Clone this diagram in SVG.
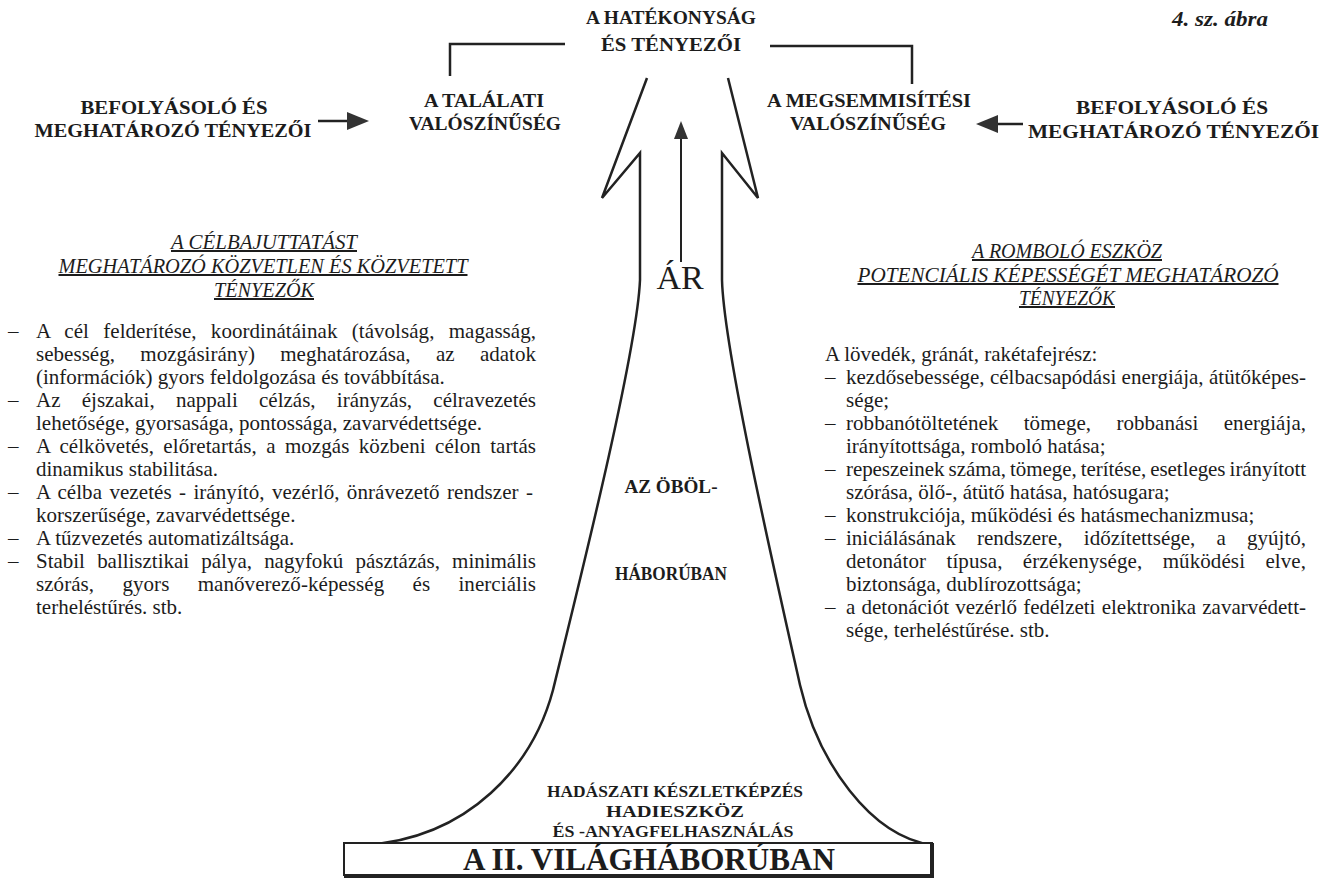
<svg xmlns="http://www.w3.org/2000/svg" width="1319" height="881" viewBox="0 0 1319 881">
<style>
.t{font-family:"Liberation Serif","Times New Roman",serif;fill:#1c1c1c}
.cap{font-size:19px;font-weight:bold;text-anchor:middle}
.hd{font-size:20px;font-style:italic;text-decoration:underline;text-anchor:middle}
.li{font-size:21px}
.ln{fill:none;stroke:#222;stroke-width:2.5}
.thin{fill:none;stroke:#222;stroke-width:2}
.hd-fill{fill:#333}
</style>
<rect width="1319" height="881" fill="#ffffff"/>

<g id="title">
<text class="t cap" x="671" y="24" textLength="170" lengthAdjust="spacingAndGlyphs">A HATÉKONYSÁG</text>
<text class="t cap" x="671" y="51" textLength="140" lengthAdjust="spacingAndGlyphs">ÉS TÉNYEZŐI</text>
</g>
<g id="figno">
<text class="t" x="1172" y="26" font-size="22" font-weight="bold" font-style="italic" textLength="96" lengthAdjust="spacingAndGlyphs">4. sz. ábra</text>
</g>

<g id="hit-prob">
<text class="t cap" x="484" y="107" textLength="120" lengthAdjust="spacingAndGlyphs">A TALÁLATI</text>
<text class="t cap" x="485" y="130" textLength="152" lengthAdjust="spacingAndGlyphs">VALÓSZÍNŰSÉG</text>
</g>
<g id="kill-prob">
<text class="t cap" x="869" y="107" textLength="204" lengthAdjust="spacingAndGlyphs">A MEGSEMMISÍTÉSI</text>
<text class="t cap" x="868" y="130" textLength="156" lengthAdjust="spacingAndGlyphs">VALÓSZÍNŰSÉG</text>
</g>
<g id="factors-left">
<text class="t cap" x="174" y="114" textLength="187" lengthAdjust="spacingAndGlyphs">BEFOLYÁSOLÓ ÉS</text>
<text class="t cap" x="173" y="137" textLength="277" lengthAdjust="spacingAndGlyphs">MEGHATÁROZÓ TÉNYEZŐI</text>
</g>
<g id="factors-right">
<text class="t cap" x="1172" y="114" textLength="192" lengthAdjust="spacingAndGlyphs">BEFOLYÁSOLÓ ÉS</text>
<text class="t" x="1028" y="138" font-size="19" font-weight="bold" textLength="291" lengthAdjust="spacingAndGlyphs">MEGHATÁROZÓ TÉNYEZŐI</text>
</g>

<g id="connectors">
<path class="ln" d="M450,76 V44 H565"/>
<path class="ln" d="M770,46 H912 V84"/>
<line class="ln" x1="318" y1="121" x2="350" y2="121"/>
<path class="hd-fill" d="M347,112 L369,121 L347,130 Z"/>
<line class="ln" x1="1023" y1="124" x2="995" y2="124"/>
<path class="hd-fill" d="M998,115 L976,124 L998,133 Z"/>
</g>

<g id="big-arrow">
<path class="ln" d="M647,78 L602,198 L640,153 L640,280 C637,350 585,560 553,690 C533,765 470,838 365,845"/>
<path class="ln" d="M728,78 L758,198 L722,153 L722,280 C724,350 772,560 800,685 C818,762 870,836 932,845"/>
<line class="thin" x1="681" y1="262" x2="681" y2="136"/>
<path class="hd-fill" d="M674,139 L681,121 L688,139 Z"/>
</g>

<g id="price">
<text class="t" x="680" y="289" font-size="34" text-anchor="middle">ÁR</text>
</g>
<g id="gulf-war">
<text class="t" x="671" y="493" font-size="18" font-weight="bold" text-anchor="middle" textLength="93" lengthAdjust="spacingAndGlyphs">AZ ÖBÖL-</text>
<text class="t" x="671" y="580" font-size="18" font-weight="bold" text-anchor="middle" textLength="112" lengthAdjust="spacingAndGlyphs">HÁBORÚBAN</text>
</g>
<g id="stockpile">
<text class="t" x="675" y="797" font-size="16" font-weight="bold" text-anchor="middle" textLength="256" lengthAdjust="spacingAndGlyphs">HADÁSZATI KÉSZLETKÉPZÉS</text>
<text class="t" x="675" y="817" font-size="16" font-weight="bold" text-anchor="middle" textLength="138" lengthAdjust="spacingAndGlyphs">HADIESZKÖZ</text>
<text class="t" x="673" y="837" font-size="16" font-weight="bold" text-anchor="middle" textLength="241" lengthAdjust="spacingAndGlyphs">ÉS -ANYAGFELHASZNÁLÁS</text>
</g>
<g id="ww2-box">
<rect x="344" y="843" width="588" height="32" fill="#fff" stroke="#222" stroke-width="2"/>
<line x1="344" y1="876" x2="934" y2="876" stroke="#222" stroke-width="4"/>
<line x1="932" y1="843" x2="932" y2="878" stroke="#222" stroke-width="4"/>
<text class="t" x="649" y="870" font-size="31" font-weight="bold" text-anchor="middle" textLength="372" lengthAdjust="spacingAndGlyphs">A II. VILÁGHÁBORÚBAN</text>
</g>

<g id="delivery-factors">
<text class="t hd" x="264" y="249" textLength="186" lengthAdjust="spacingAndGlyphs">A CÉLBAJUTTATÁST</text>
<text class="t hd" x="263" y="273" textLength="409" lengthAdjust="spacingAndGlyphs">MEGHATÁROZÓ KÖZVETLEN ÉS KÖZVETETT</text>
<text class="t hd" x="264" y="297" textLength="100" lengthAdjust="spacingAndGlyphs">TÉNYEZŐK</text>
<text class="t li" x="8" y="338">–</text>
<text class="t li" x="36" y="338" word-spacing="9" textLength="500" lengthAdjust="spacing">A cél felderítése, koordinátáinak (távolság, magasság,</text>
<text class="t li" x="36" y="361" word-spacing="20" textLength="500" lengthAdjust="spacing">sebesség, mozgásirány) meghatározása, az adatok</text>
<text class="t li" x="36" y="384">(információk) gyors feldolgozása és továbbítása.</text>
<text class="t li" x="8" y="407">–</text>
<text class="t li" x="36" y="407" word-spacing="16" textLength="500" lengthAdjust="spacing">Az éjszakai, nappali célzás, irányzás, célravezetés</text>
<text class="t li" x="36" y="430">lehetősége, gyorsasága, pontossága, zavarvédettsége.</text>
<text class="t li" x="8" y="453">–</text>
<text class="t li" x="36" y="453" word-spacing="4" textLength="500" lengthAdjust="spacing">A célkövetés, előretartás, a mozgás közbeni célon tartás</text>
<text class="t li" x="36" y="476">dinamikus stabilitása.</text>
<text class="t li" x="8" y="499">–</text>
<text class="t li" x="36" y="499" word-spacing="2" textLength="497" lengthAdjust="spacing">A célba vezetés - irányító, vezérlő, önrávezető rendszer -</text>
<text class="t li" x="36" y="522">korszerűsége, zavarvédettsége.</text>
<text class="t li" x="8" y="545">–</text>
<text class="t li" x="36" y="545">A tűzvezetés automatizáltsága.</text>
<text class="t li" x="8" y="568">–</text>
<text class="t li" x="36" y="568" word-spacing="7" textLength="500" lengthAdjust="spacing">Stabil ballisztikai pálya, nagyfokú pásztázás, minimális</text>
<text class="t li" x="36" y="591" word-spacing="23" textLength="500" lengthAdjust="spacing">szórás, gyors manőverező-képesség és inerciális</text>
<text class="t li" x="36" y="614">terheléstűrés. stb.</text>
</g>

<g id="destruction-factors">
<text class="t hd" x="1067" y="258" textLength="190" lengthAdjust="spacingAndGlyphs">A ROMBOLÓ ESZKÖZ</text>
<text class="t hd" x="1068" y="282" textLength="421" lengthAdjust="spacingAndGlyphs">POTENCIÁLIS KÉPESSÉGÉT MEGHATÁROZÓ</text>
<text class="t hd" x="1067" y="305" textLength="96" lengthAdjust="spacingAndGlyphs">TÉNYEZŐK</text>
<text class="t li" x="825" y="361">A lövedék, gránát, rakétafejrész:</text>
<text class="t li" x="825" y="384">–</text>
<text class="t li" x="846" y="384" textLength="460" lengthAdjust="spacing">kezdősebessége, célbacsapódási energiája, átütőképes-</text>
<text class="t li" x="846" y="407">sége;</text>
<text class="t li" x="825" y="430">–</text>
<text class="t li" x="846" y="430" word-spacing="20" textLength="460" lengthAdjust="spacing">robbanótöltetének tömege, robbanási energiája,</text>
<text class="t li" x="846" y="453">irányítottsága, romboló hatása;</text>
<text class="t li" x="825" y="476">–</text>
<text class="t li" x="846" y="476" word-spacing="-1" textLength="460" lengthAdjust="spacing">repeszeinek száma, tömege, terítése, esetleges irányított</text>
<text class="t li" x="846" y="499">szórása, ölő-, átütő hatása, hatósugara;</text>
<text class="t li" x="825" y="522">–</text>
<text class="t li" x="846" y="522">konstrukciója, működési és hatásmechanizmusa;</text>
<text class="t li" x="825" y="545">–</text>
<text class="t li" x="846" y="545" word-spacing="16" textLength="460" lengthAdjust="spacing">iniciálásának rendszere, időzítettsége, a gyújtó,</text>
<text class="t li" x="846" y="568" word-spacing="15" textLength="460" lengthAdjust="spacing">detonátor típusa, érzékenysége, működési elve,</text>
<text class="t li" x="846" y="591">biztonsága, dublírozottsága;</text>
<text class="t li" x="825" y="614">–</text>
<text class="t li" x="846" y="614" word-spacing="1" textLength="460" lengthAdjust="spacing">a detonációt vezérlő fedélzeti elektronika zavarvédett-</text>
<text class="t li" x="846" y="637">sége, terheléstűrése. stb.</text>
</g>
</svg>
